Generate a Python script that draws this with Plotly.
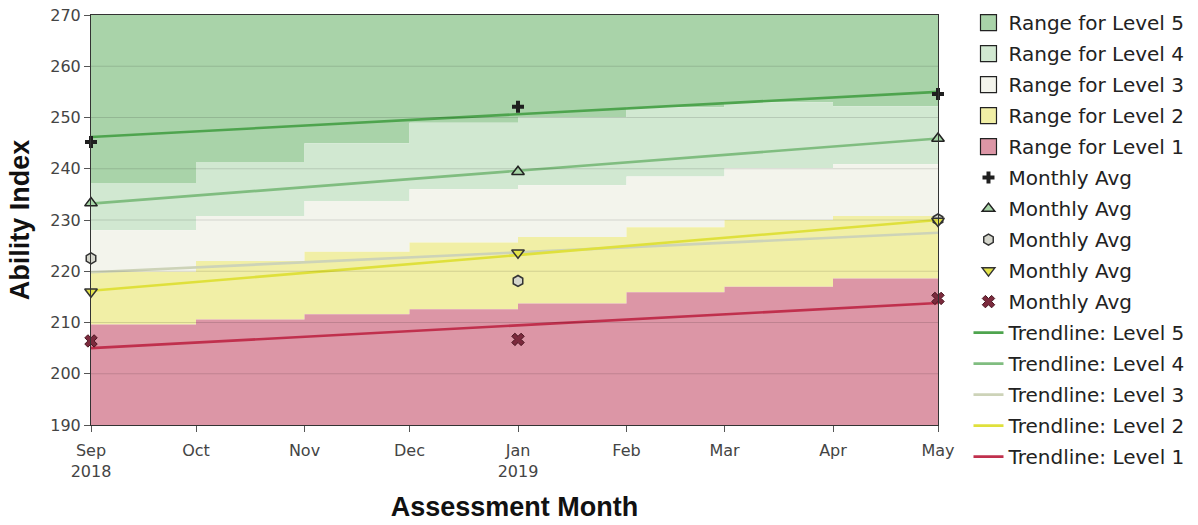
import plotly.graph_objects as go

# ---------------- data ----------------
months = ['2018-09-01', '2018-10-01', '2018-11-01', '2018-12-01', '2019-01-01',
          '2019-02-01', '2019-03-01', '2019-04-01', '2019-05-01']
tick_text = ['Sep<br>2018', 'Oct', 'Nov', 'Dec', 'Jan<br>2019', 'Feb', 'Mar', 'Apr', 'May']

# upper bound of each level for each monthly segment (Sep..Apr)
level1_top = [209.6, 210.6, 211.6, 212.6, 213.7, 215.9, 217.0, 218.6]
level2_top = [219.9, 222.0, 223.8, 225.6, 226.7, 228.6, 230.0, 230.8]
level3_top = [228.0, 230.8, 233.7, 236.0, 236.8, 238.5, 240.1, 240.9]
level4_top = [237.2, 241.3, 245.0, 249.0, 250.0, 252.0, 253.0, 252.2]
y_min, y_max = 190, 270
y_ticks = [190, 200, 210, 220, 230, 240, 250, 260, 270]

avg_months = ['2018-09-01', '2019-01-01', '2019-05-01']
avg_l5 = [245.2, 252.1, 254.6]
avg_l4 = [233.3, 239.4, 245.9]
avg_l3 = [222.5, 218.1, 230.1]
avg_l2 = [216.0, 223.6, 229.8]
avg_l1 = [206.4, 206.7, 214.7]

trend_months = ['2018-09-01', '2019-05-01']
trend_l5 = [246.2, 255.0]
trend_l4 = [233.2, 245.9]
trend_l3 = [219.8, 227.5]
trend_l2 = [216.2, 230.0]
trend_l1 = [205.0, 213.8]

# ---------------- styles ----------------
band_colors = {5: '#a9d3a9', 4: '#d1e8d1', 3: '#f3f4ec', 2: '#f1efa6', 1: '#dc96a6'}
trend_colors = {5: '#4ea44e', 4: '#80bd80', 3: '#cdd3b8', 2: '#dfe03c', 1: '#c0304d'}
FONT = 'DejaVu Sans'

fig = go.Figure()


def step_path(vals):
    xs, ys = [], []
    for i, v in enumerate(vals):
        xs += [months[i], months[i + 1]]
        ys += [v, v]
    return xs, ys


def band(lower, upper):
    n = len(months) - 1
    lo = lower if isinstance(lower, list) else [lower] * n
    up = upper if isinstance(upper, list) else [upper] * n
    ux, uy = step_path(up)
    lx, ly = step_path(lo)
    return ux + lx[::-1], uy + ly[::-1]


bounds = {1: (y_min, level1_top), 2: (level1_top, level2_top), 3: (level2_top, level3_top),
          4: (level3_top, level4_top), 5: (level4_top, y_max)}

rank = 1
for lvl in [5, 4, 3, 2, 1]:
    bx, by = band(*bounds[lvl])
    fig.add_trace(go.Scatter(x=bx, y=by, mode='lines', fill='toself',
                             fillcolor=band_colors[lvl], line=dict(width=0),
                             hoverinfo='skip', showlegend=False))
    # legend swatch
    fig.add_trace(go.Scatter(x=[None], y=[None], mode='markers', name=f'Range for Level {lvl}',
                             marker=dict(symbol='square', size=16, color=band_colors[lvl],
                                         line=dict(color='#222', width=1.2)),
                             legendgroup=f'r{lvl}', legendrank=rank))
    rank += 1

trends = {5: trend_l5, 4: trend_l4, 3: trend_l3, 2: trend_l2, 1: trend_l1}
for lvl in [5, 4, 3, 2, 1]:
    fig.add_trace(go.Scatter(x=trend_months, y=trends[lvl], mode='lines',
                             name=f'Trendline: Level {lvl}',
                             line=dict(color=trend_colors[lvl], width=2.6),
                             legendgroup=f't{lvl}', legendrank=20 + (5 - lvl), cliponaxis=False))

avgs = {5: avg_l5, 4: avg_l4, 3: avg_l3, 2: avg_l2, 1: avg_l1}
markers = {
    5: dict(symbol='cross', size=10, color='#1f1f1f', line=dict(width=0)),
    4: dict(symbol='triangle-up', size=11, color='#a6d4a6', line=dict(color='#222', width=1.5)),
    3: dict(symbol='hexagon', size=11, color='#d5d6cc', line=dict(color='#333', width=1.5)),
    2: dict(symbol='triangle-down', size=11, color='#e3e34a', line=dict(color='#333', width=1.5)),
    1: dict(symbol='x', size=11, color='#7b2a3d', line=dict(color='#4a1520', width=1)),
}
for lvl in [5, 4, 3, 2, 1]:
    fig.add_trace(go.Scatter(x=avg_months, y=avgs[lvl], mode='markers', name='Monthly Avg',
                             marker=markers[lvl], legendgroup=f'm{lvl}',
                             legendrank=10 + (5 - lvl), cliponaxis=False))

# subtle gridlines drawn over the bands
for yv in y_ticks[1:-1]:
    fig.add_shape(type='line', xref='paper', x0=0, x1=1, yref='y', y0=yv, y1=yv,
                  line=dict(color='rgba(0,0,0,0.13)', width=1), layer='above')

fig.update_layout(
    width=1198, height=525,
    margin=dict(l=91, r=260, t=15, b=100, autoexpand=False),
    paper_bgcolor='white', plot_bgcolor='white',
    font=dict(family=FONT, color='#333'),
    legend=dict(x=1.036, y=1.029, xanchor='left', yanchor='top',
                font=dict(family=FONT, size=20, color='#222'),
                traceorder='grouped', tracegroupgap=2, itemwidth=30,
                maxheight=520, bgcolor='rgba(0,0,0,0)'),
    showlegend=True,
)
fig.update_xaxes(type='date', range=[months[0], months[-1]], automargin=False,
                 tickmode='array', tickvals=months, ticktext=tick_text,
                 ticks='outside', ticklen=6, tickcolor='#555',
                 tickfont=dict(family=FONT, size=16, color='#444'),
                 ticklabelstandoff=5, ticklabeloverflow='allow',
                 showgrid=False, zeroline=False,
                 showline=True, linecolor='#333', linewidth=1, mirror=True,
                 title=dict(text='<b>Assessment Month</b>',
                            font=dict(family='Liberation Sans', size=27, color='#111'),
                            standoff=17))
fig.update_yaxes(range=[y_min, y_max], tickmode='array', tickvals=y_ticks, automargin=False,
                 ticks='outside', ticklen=6, tickcolor='#555',
                 tickfont=dict(family=FONT, size=16, color='#444'),
                 ticklabeloverflow='allow',
                 showgrid=False, zeroline=False,
                 showline=True, linecolor='#333', linewidth=1, mirror=True,
                 title=dict(text='<b>Ability Index</b>',
                            font=dict(family='Liberation Sans', size=27, color='#111'),
                            standoff=12))

# remove the page's default body margin so the figure fills the window exactly
fig.write_html('out.html', config={'displayModeBar': False},
               post_script="document.body.style.margin='0px';")
